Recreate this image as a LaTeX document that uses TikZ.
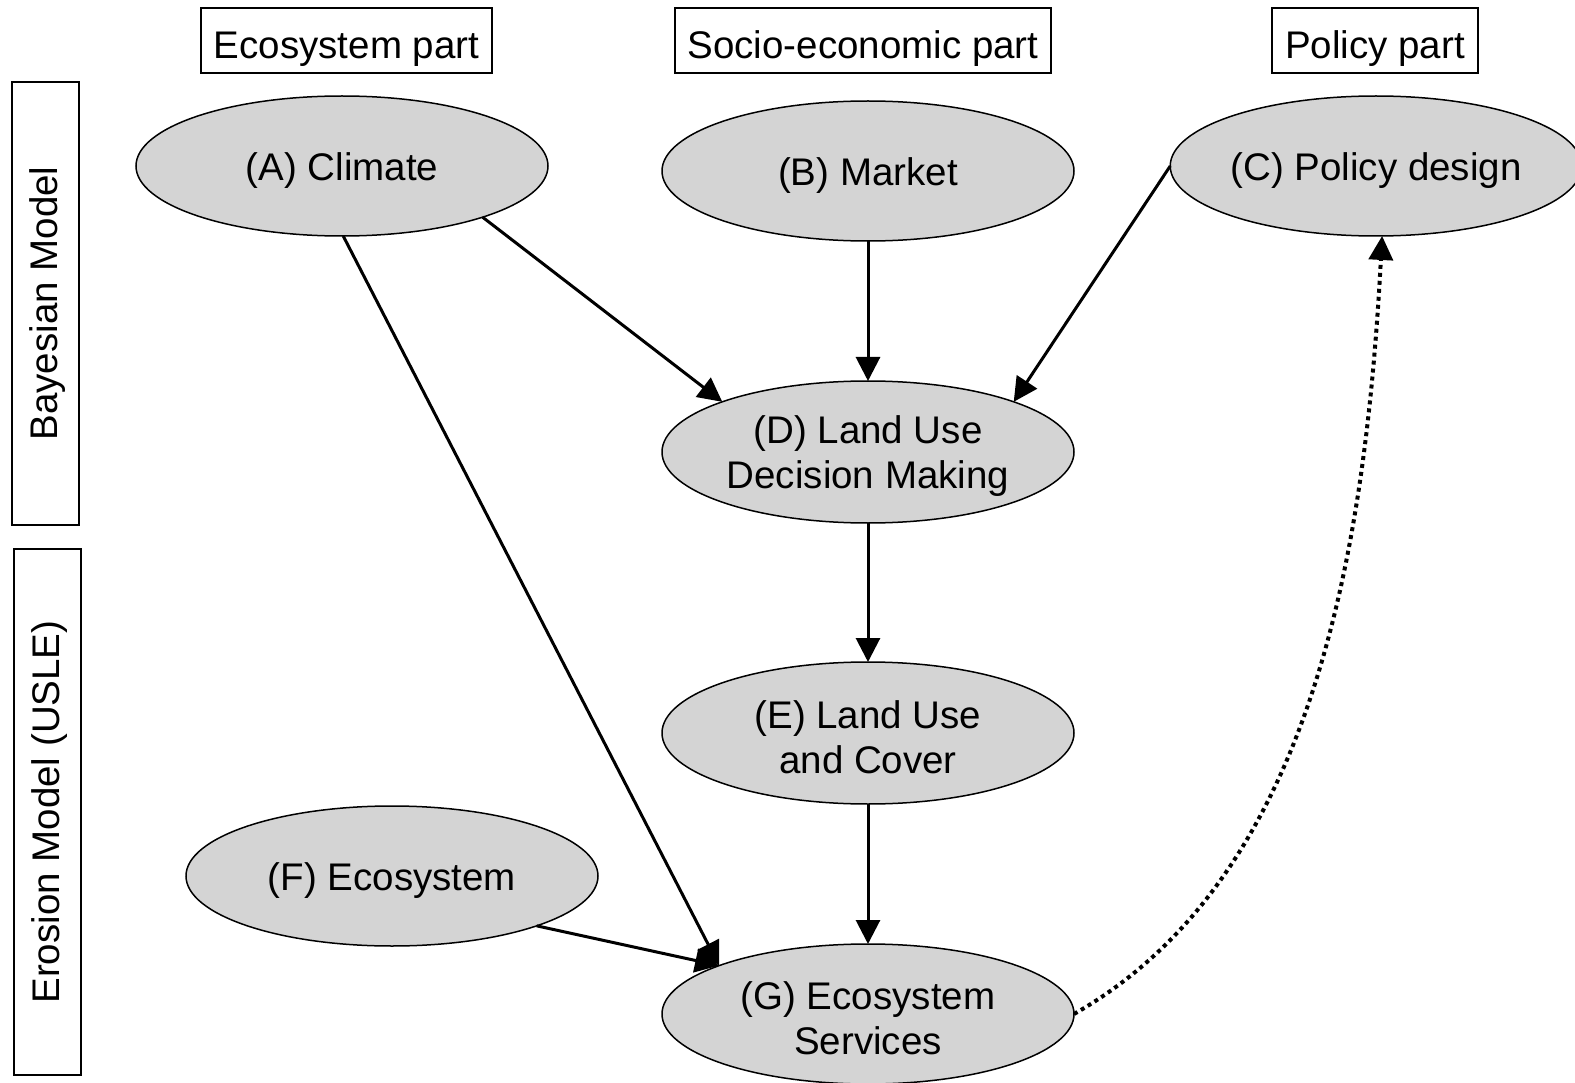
\documentclass[tikz,border=0pt]{standalone}
\usepackage{fontspec}
\setmainfont{Liberation Sans}
\usetikzlibrary{shapes.geometric,arrows.meta}
\definecolor{nodegray}{RGB}{212,212,212}
% invisible strut that pushes a node's text a little lower
\newcommand{\dropstrut}[1]{\rule{0pt}{#1}}
\begin{document}
\begin{tikzpicture}[x=1pt,y=-1pt,
  every node/.style={font=\fontsize{38.5}{45}\selectfont},
  ell/.style={ellipse,draw,fill=nodegray,line width=1.5pt,inner sep=0pt,outer sep=0pt,align=center},
  part/.style={draw,line width=1.3pt,inner sep=0pt,outer sep=0pt,minimum height=65pt},
  band/.style={draw,line width=1.3pt,inner sep=0pt,outer sep=0pt,rotate=90,minimum height=67pt},
  link/.style={line width=3pt,-{Triangle[length=24pt,width=24pt]}},
  feedback/.style={line width=4pt,dash pattern=on 4pt off 4pt,-{Triangle[length=24pt,width=24pt]}}]
\useasboundingbox (0,0) rectangle (1575,1083);

% column headings
\node[part,minimum width=291pt] (hEco) at (346.5,40.5) {\dropstrut{44pt}Ecosystem part};
\node[part,minimum width=376pt] (hSoc) at (863,40.5) {\dropstrut{44pt}Socio-economic part};
\node[part,minimum width=206pt] (hPol) at (1375,40.5) {\dropstrut{44pt}Policy part};

% model bands on the left
\node[band,minimum width=443pt] (bayes) at (45.5,303.5) {\dropstrut{32pt}Bayesian Model};
\node[band,minimum width=526pt] (erosion) at (47.5,812) {\dropstrut{32pt}Erosion Model (USLE)};

% variables
\node[ell,minimum width=412pt,minimum height=140pt] (A) at (342,166) {\dropstrut{36pt}(A) Climate};
\node[ell,minimum width=412pt,minimum height=140pt] (B) at (868,171) {\dropstrut{36pt}(B) Market};
\node[ell,minimum width=396pt,minimum height=140pt] (C) at (1376,166) {\dropstrut{36pt}(C) Policy design};
\node[ell,minimum width=412pt,minimum height=142pt] (D) at (868,452) {\dropstrut{36pt}(D) Land Use\\Decision Making};
\node[ell,minimum width=412pt,minimum height=142pt] (E) at (868,733) {\dropstrut{36pt}(E) Land Use\\and Cover};
\node[ell,minimum width=412pt,minimum height=140pt] (F) at (392,876) {\dropstrut{36pt}(F) Ecosystem};
\node[ell,minimum width=412pt,minimum height=140pt] (G) at (868,1014) {\dropstrut{36pt}(G) Ecosystem\\Services};

% causal links
\draw[link] (A.-20) -- (D.161);
\draw[link] (B.south) -- (D.north);
\draw[link] (C.west) -- (D.19);
\draw[link] (A.-89) -- (G.162);
\draw[link] (F.-19) -- (G.162);
\draw[link] (D.south) -- (E.north);
\draw[link] (E.south) -- (G.north);

% feedback to policy
\draw[feedback] (G.east) .. controls (1310,880) and (1365,560) .. (C.-85);
\end{tikzpicture}
\end{document}
